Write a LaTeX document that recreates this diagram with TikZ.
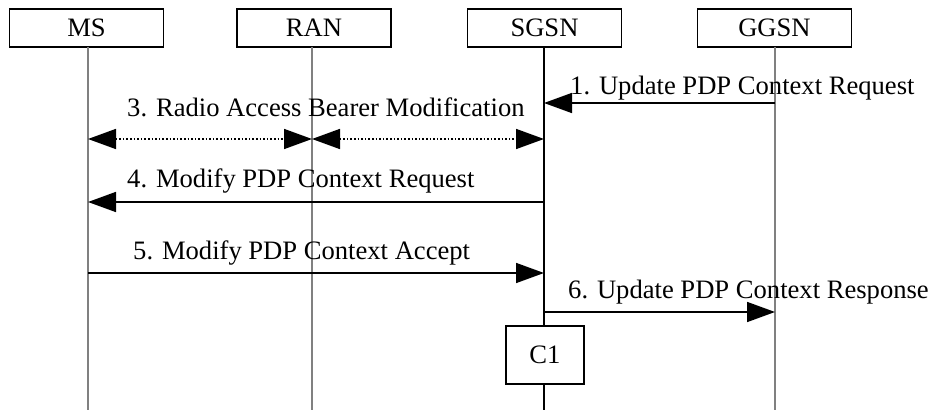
\documentclass[tikz,border=0pt]{standalone}
\usepackage{fontspec}
\setmainfont{Liberation Serif}
\usetikzlibrary{arrows.meta}
\begin{document}
\begin{tikzpicture}[x=1pt,y=-1pt,
  font=\fontsize{26.6}{30}\selectfont,
  entity/.style={draw=black,line width=1.5pt,fill=white,minimum width=154pt,minimum height=38pt,inner sep=0pt},
  lifeline/.style={draw=gray,line width=1.2pt},
  lifelinek/.style={draw=black,line width=1.2pt},
  msg/.style={line width=1.6pt,-{Triangle[length=28pt,width=20pt]}},
  dmsg/.style={line width=1.6pt,dotted,{Triangle[length=28pt,width=20pt]}-{Triangle[length=28pt,width=20pt]}},
  lbl/.style={anchor=base west,inner sep=0pt}]
\useasboundingbox (0,0) rectangle (930,414);
% entities
\node[entity] (ms) at (86.5,28) {MS};
\node[entity] (ran) at (314,28) {RAN};
\node[entity] (sgsn) at (544.5,28) {SGSN};
\node[entity] (ggsn) at (774.5,28) {GGSN};
% lifeline ends
\coordinate (msE) at (88,410);
\coordinate (ranE) at (312,410);
\coordinate (sgsnE) at (544,410);
\coordinate (ggsnE) at (775,410);
\draw[lifeline] (88,47) -- (msE);
\draw[lifeline] (312,47) -- (ranE);
\draw[lifelinek] (544,47) -- (sgsnE);
\draw[lifeline] (775,47) -- (ggsnE);
% message endpoints
\coordinate (g1) at (775,103);  \coordinate (s1) at (544,103);
\coordinate (m3) at (88,139);   \coordinate (r3) at (312,139); \coordinate (s3) at (544,139);
\coordinate (s4) at (544,202);  \coordinate (m4) at (88,202);
\coordinate (m5) at (88,273);   \coordinate (s5) at (544,273);
\coordinate (s6) at (544,312);  \coordinate (g6) at (775,312);
% messages
\draw[msg] (g1) -- (s1);
\node[lbl] (l1) at (570,95) {1. Update PDP Context Request};
\draw[dmsg] (m3) -- (r3);
\draw[dmsg] (r3) -- (s3);
\node[lbl] (l3) at (127,117) {3. Radio Access Bearer Modification};
\draw[msg] (s4) -- (m4);
\node[lbl] (l4) at (127,188) {4. Modify PDP Context Request};
\draw[msg] (m5) -- (s5);
\node[lbl] (l5) at (133,260) {5. Modify PDP Context Accept};
\draw[msg] (s6) -- (g6);
\node[lbl] (l6) at (568,299) {6. Update PDP Context Response};
% C1
\node[entity,minimum width=78pt,minimum height=58pt] (c1) at (545,355) {C1};
\end{tikzpicture}
\end{document}
